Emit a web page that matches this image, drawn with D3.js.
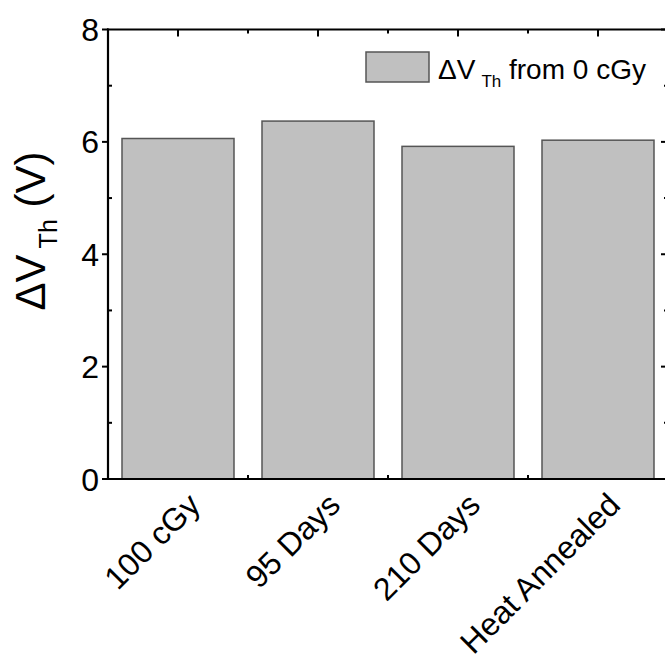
<!DOCTYPE html>
<html>
<head>
<meta charset="utf-8">
<script src="https://cdn.jsdelivr.net/npm/d3@7"></script>
<style>
  body { margin: 0; background: #fff; }
  text { font-family: Arial, "Liberation Sans", sans-serif; fill: #000; }
</style>
</head>
<body>
<svg width="665" height="671"></svg>
<script>
const categories = ["100 cGy", "95 Days", "210 Days", "Heat Annealed"];
const deltaVth = [6.06, 6.37, 5.92, 6.03];
const yMajorTicks = [0, 2, 4, 6, 8];
const yMinorTicks = [1, 3, 5, 7];

const svg = d3.select("svg");
const plotLeft = 108, plotRight = 668, plotTop = 29.5, plotBottom = 479;

const x = d3.scaleBand()
  .domain(categories)
  .range([plotLeft, plotRight])
  .paddingInner(0.2)
  .paddingOuter(0.1);

const y = d3.scaleLinear()
  .domain([0, 8])
  .range([plotBottom, plotTop]);

const barFill = "#c0c0c0";
const barStroke = "#555";

// gap positions between bars (minor ticks on x)
const gaps = categories.slice(1).map(c => x(c) - x.step() * x.paddingInner() / 2);

// bottom major ticks (hidden behind bars)
svg.selectAll(".bt-major")
  .data(categories)
  .enter().append("line")
  .attr("x1", d => x(d) + x.bandwidth() / 2)
  .attr("x2", d => x(d) + x.bandwidth() / 2)
  .attr("y1", plotBottom).attr("y2", plotBottom - 7)
  .attr("stroke", "#000").attr("stroke-width", 2);

// bars
svg.selectAll(".bar")
  .data(deltaVth)
  .enter().append("rect")
  .attr("class", "bar")
  .attr("x", (d, i) => x(categories[i]))
  .attr("y", d => y(d))
  .attr("width", x.bandwidth())
  .attr("height", d => y(0) - y(d))
  .attr("fill", barFill)
  .attr("stroke", barStroke)
  .attr("stroke-width", 1.5);

// frame
const frame = svg.append("g").attr("stroke", "#000").attr("stroke-width", 2.2).attr("fill", "none");
frame.append("line").attr("x1", plotLeft).attr("x2", plotLeft).attr("y1", plotTop - 1).attr("y2", plotBottom + 1);
frame.append("line").attr("x1", plotLeft - 1).attr("x2", plotRight).attr("y1", plotBottom).attr("y2", plotBottom);
frame.append("line").attr("x1", plotLeft - 1).attr("x2", plotRight).attr("y1", plotTop).attr("y2", plotTop);
frame.append("line").attr("x1", plotRight).attr("x2", plotRight).attr("y1", plotTop).attr("y2", plotBottom);

const ticks = svg.append("g").attr("stroke", "#000").attr("stroke-width", 2);

// left axis
yMajorTicks.forEach(v => {
  ticks.append("line").attr("x1", plotLeft - 6).attr("x2", plotLeft).attr("y1", y(v)).attr("y2", y(v));
});
yMinorTicks.forEach(v => {
  ticks.append("line").attr("x1", plotLeft).attr("x2", plotLeft + 4).attr("y1", y(v)).attr("y2", y(v));
});
// right axis
yMajorTicks.forEach(v => {
  ticks.append("line").attr("x1", plotRight - 7).attr("x2", plotRight).attr("y1", y(v)).attr("y2", y(v));
});
yMinorTicks.forEach(v => {
  ticks.append("line").attr("x1", plotRight - 4).attr("x2", plotRight).attr("y1", y(v)).attr("y2", y(v));
});
// top axis + bottom minor
categories.forEach(c => {
  const cx = x(c) + x.bandwidth() / 2;
  ticks.append("line").attr("x1", cx).attr("x2", cx).attr("y1", plotTop).attr("y2", plotTop + 7);
});
gaps.forEach(g => {
  ticks.append("line").attr("x1", g).attr("x2", g).attr("y1", plotTop).attr("y2", plotTop + 4);
  ticks.append("line").attr("x1", g).attr("x2", g).attr("y1", plotBottom).attr("y2", plotBottom - 4);
});

// y tick labels
svg.selectAll(".ylab")
  .data(yMajorTicks)
  .enter().append("text")
  .attr("x", plotLeft - 9)
  .attr("y", d => y(d))
  .attr("dy", "0.36em")
  .attr("text-anchor", "end")
  .attr("font-size", 32)
  .text(d => d);

// x tick labels, rotated
svg.selectAll(".xlab")
  .data(categories)
  .enter().append("text")
  .attr("text-anchor", "end")
  .attr("font-size", 32)
  .attr("transform", d => `translate(${x(d) + x.bandwidth() / 2 + 24},${plotBottom + 28}) rotate(-45)`)
  .text(d => d);

// y axis label
const yl = svg.append("text")
  .attr("text-anchor", "middle")
  .attr("font-size", 42)
  .attr("transform", "translate(45,231) rotate(-90)");
yl.append("tspan").text("\u0394V");
yl.append("tspan").attr("font-size", 25).attr("dx", 6).attr("dy", 12).text("Th");
yl.append("tspan").attr("dy", -12).text(" (V)");

// legend
const lg = svg.append("g");
lg.append("rect")
  .attr("x", 366).attr("y", 52)
  .attr("width", 63).attr("height", 30)
  .attr("fill", barFill).attr("stroke", barStroke).attr("stroke-width", 1.5);
const lt = lg.append("text").attr("x", 438).attr("y", 79).attr("font-size", 28);
lt.append("tspan").text("\u0394V");
lt.append("tspan").attr("font-size", 17).attr("dx", 6).attr("dy", 8).text("Th");
lt.append("tspan").attr("dy", -8).text(" from 0 cGy");
</script>
</body>
</html>
